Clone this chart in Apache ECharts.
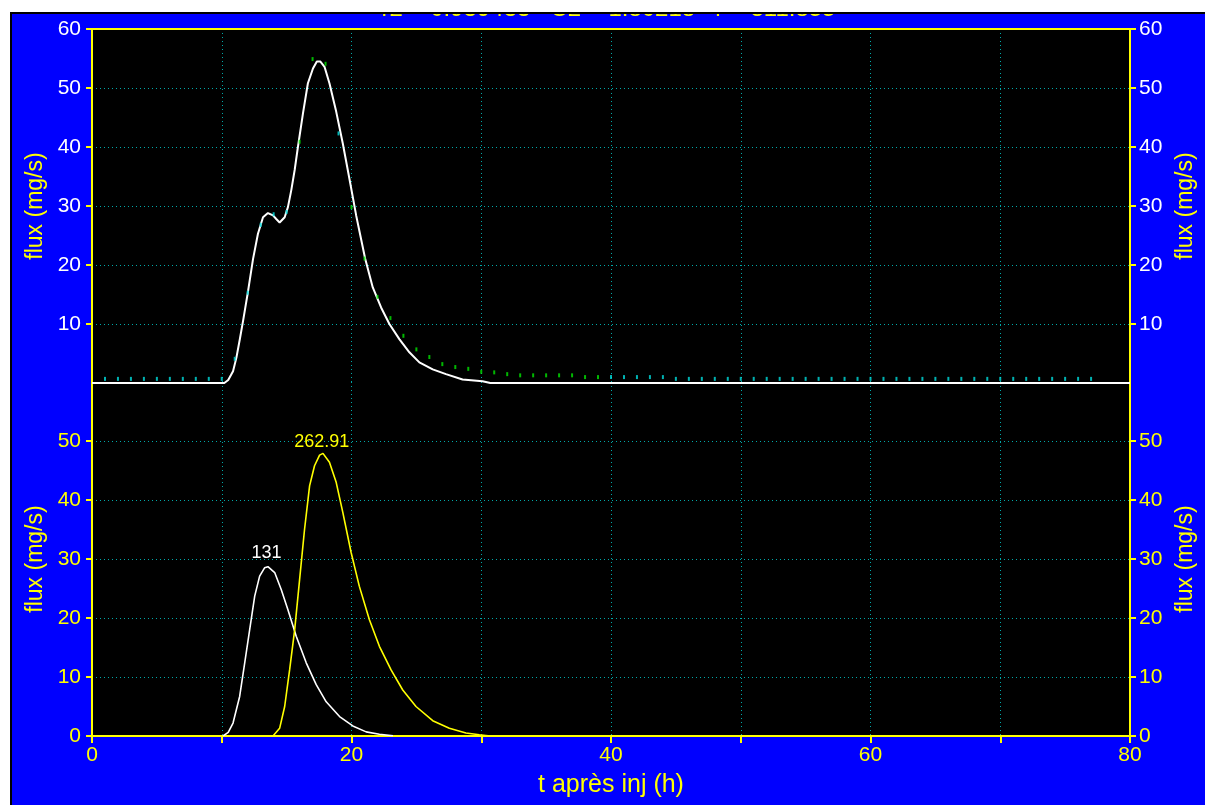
<!DOCTYPE html>
<html>
<head>
<meta charset="utf-8">
<script src="https://cdn.jsdelivr.net/npm/echarts@6/dist/echarts.min.js"></script>
<style>
html,body{margin:0;padding:0;background:#fff;overflow:hidden;width:1205px;height:805px;}
#c{position:absolute;left:10px;top:12px;width:1193px;height:791px;border-left:2px solid #000;border-top:2px solid #000;background:#0000ff;}
</style>
</head>
<body>
<div id="c"></div>
<script>
// ---- data ----
const titleText = 'r2 = 0.939433   C2 = 1.80218   r = 311.855';
const xTicks = [0, 20, 40, 60, 80];
const topYTicks = [10, 20, 30, 40, 50, 60];
const botYTicks = [0, 10, 20, 30, 40, 50];

// measured flux (top panel, white line)
const measT = [0, 10.2, 10.5, 10.87, 11.13, 11.4, 11.64, 12.03, 12.41, 12.79, 13.18, 13.56, 13.95, 14.2, 14.46, 14.85, 15.1, 15.36, 15.62, 15.87, 16.26, 16.64, 17.03, 17.33, 17.59, 17.92, 18.3, 18.82, 19.33, 19.85, 20.36, 20.87, 21.05, 21.64, 22.28, 22.92, 23.7, 24.46, 25.23, 26.26, 27.28, 28.56, 30.1, 30.7, 80];
const measFlux = [0, 0, 0.5, 2.0, 4.3, 7.5, 10.5, 15.6, 21.0, 25.3, 28.1, 28.8, 28.4, 27.8, 27.2, 28.1, 29.8, 32.7, 36.1, 40.0, 45.7, 50.8, 53.3, 54.5, 54.5, 53.6, 50.8, 46.0, 40.6, 34.5, 28.4, 23.0, 21.1, 16.2, 12.8, 10.0, 7.4, 5.2, 3.5, 2.3, 1.5, 0.6, 0.3, 0, 0];

// model flux (top panel, dots every hour)
const modelT = [1,2,3,4,5,6,7,8,9,10,11,12,13,14,15,16,17,18,19,20,21,22,23,24,25,26,27,28,29,30,31,32,33,34,35,36,37,38,39,40,41,42,43,44,45,46,47,48,49,50,51,52,53,54,55,56,57,58,59,60,61,62,63,64,65,66,67,68,69,70,71,72,73,74,75,76,77];
const modelFlux = [0.7,0.7,0.7,0.7,0.7,0.7,0.7,0.7,0.7,0.7,4.1,15.3,26.8,28.6,29.0,40.9,54.9,54.1,42.3,29.8,21.1,14.6,11.0,8.0,5.7,4.4,3.2,2.7,2.4,1.9,1.8,1.5,1.3,1.3,1.3,1.3,1.3,1.0,1.0,1.0,1.0,1.0,1.0,1.0,0.7,0.7,0.7,0.7,0.7,0.7,0.7,0.7,0.7,0.7,0.7,0.7,0.7,0.7,0.7,0.7,0.7,0.7,0.7,0.7,0.7,0.7,0.7,0.7,0.7,0.7,0.7,0.7,0.7,0.7,0.7,0.7,0.7];

// component 1 (bottom panel, white)
const comp1T = [10.1, 10.5, 10.87, 11.38, 11.77, 12.15, 12.54, 12.92, 13.3, 13.56, 13.69, 14.08, 14.59, 15.1, 15.74, 16.51, 17.28, 18.05, 19.08, 20.1, 21.13, 22.15, 23.2];
const comp1Flux = [0, 0.6, 2.2, 6.7, 12.4, 18.0, 23.7, 27.1, 28.5, 28.7, 28.6, 27.7, 24.8, 21.4, 16.9, 12.4, 8.7, 5.8, 3.3, 1.7, 0.7, 0.3, 0.05];
// component 2 (bottom panel, yellow)
const comp2T = [13.95, 14.46, 14.85, 15.23, 15.62, 16.0, 16.38, 16.77, 17.15, 17.54, 17.8, 17.92, 18.3, 18.82, 19.33, 19.97, 20.6, 21.38, 22.15, 23.05, 23.95, 24.97, 26.26, 27.54, 28.82, 29.85, 30.7];
const comp2Flux = [0, 1.3, 5.0, 11.2, 18.0, 26.5, 35.0, 42.4, 45.8, 47.6, 47.9, 47.8, 46.4, 43.0, 37.9, 31.1, 25.4, 19.7, 15.2, 11.2, 7.8, 5.0, 2.6, 1.3, 0.5, 0.2, 0];

const peakLabels = ['131', '262.91'];
const peakT = [13.45, 17.7];
const peakFlux = [28.7, 47.9];

// ---- chart ----
const zip = (a, b) => a.map((v, i) => [v, b[i]]);
const FONT = "'Liberation Sans', Arial, sans-serif";
const YEL = '#ffff00';
const GRIDC = '#00a8a8';
const splitDotted = {show: true, lineStyle: {color: GRIDC, type: [1, 3], width: 1}};

function yAx(grid, pos, ticks, labColor) {
  return {
    type: 'value', gridIndex: grid, position: pos, min: 0, max: 60, interval: 10,
    name: 'flux (mg/s)', nameLocation: 'middle', nameGap: 44, nameRotate: 90,
    nameTextStyle: {color: YEL, fontSize: 23, fontFamily: FONT},
    axisLine: {show: true, onZero: false, lineStyle: {color: YEL, width: 2}},
    axisTick: {show: true, inside: false, length: 6, customValues: ticks, lineStyle: {color: YEL, width: 2}},
    axisLabel: {show: true, customValues: ticks, color: labColor, fontSize: 21, fontFamily: FONT, margin: pos === 'left' ? 11 : 9},
    splitLine: pos === 'left' ? splitDotted : {show: false}
  };
}

const chart = echarts.init(document.getElementById('c'), null, {renderer: 'canvas'});
chart.setOption({
  animation: false,
  backgroundColor: '#0000ff',
  title: {
    text: titleText, left: 'center', top: -22,
    textStyle: {color: YEL, fontSize: 24, fontWeight: 'normal', fontFamily: FONT}
  },
  grid: [
    {left: 80, top: 15, width: 1041, height: 354, show: true, backgroundColor: '#000', borderWidth: 0},
    {left: 80, top: 368, width: 1041, height: 354, show: true, backgroundColor: '#000', borderWidth: 0}
  ],
  xAxis: [
    {type: 'value', gridIndex: 0, position: 'top', min: 0, max: 80, interval: 10,
     axisLine: {show: true, onZero: false, lineStyle: {color: YEL, width: 2}},
     axisTick: {show: false}, axisLabel: {show: false}, splitLine: splitDotted},
    {type: 'value', gridIndex: 1, position: 'bottom', min: 0, max: 80, interval: 10,
     name: 't après inj (h)', nameLocation: 'middle', nameGap: 37,
     nameTextStyle: {color: YEL, fontSize: 25, fontFamily: FONT},
     axisLine: {show: true, onZero: false, lineStyle: {color: YEL, width: 2}},
     axisTick: {show: true, inside: false, length: 7, lineStyle: {color: YEL, width: 2}},
     axisLabel: {color: YEL, fontSize: 21, fontFamily: FONT, margin: 9,
       formatter: v => xTicks.indexOf(v) >= 0 ? String(v) : ''},
     splitLine: splitDotted}
  ],
  yAxis: [
    yAx(0, 'left', topYTicks, '#ffffff'),
    yAx(0, 'right', topYTicks, '#ffffff'),
    yAx(1, 'left', botYTicks, YEL),
    yAx(1, 'right', botYTicks, YEL)
  ],
  series: [
    {type: 'line', xAxisIndex: 0, yAxisIndex: 0, data: zip(measT, measFlux),
     showSymbol: false, smooth: false, z: 5,
     lineStyle: {color: '#ffffff', width: 2}},
    {type: 'scatter', xAxisIndex: 0, yAxisIndex: 0, data: zip(modelT, modelFlux),
     symbol: 'rect', symbolSize: [2, 4], z: 6,
     itemStyle: {color: p => {
       const t = p.value[0];
       return (t >= 16 && t <= 39 && t !== 19) ? '#00e600' : '#00dede';
     }}},
    {type: 'line', xAxisIndex: 1, yAxisIndex: 2, data: zip(comp1T, comp1Flux),
     showSymbol: false, smooth: false, z: 5,
     lineStyle: {color: '#ffffff', width: 1.6},
     markPoint: {symbol: 'circle', symbolSize: 1, itemStyle: {color: 'rgba(0,0,0,0)'},
       label: {show: true, position: 'top', distance: 4, color: '#ffffff', fontSize: 18, fontFamily: FONT, formatter: p => p.name},
       data: [{name: peakLabels[0], coord: [peakT[0], peakFlux[0]]}]}},
    {type: 'line', xAxisIndex: 1, yAxisIndex: 2, data: zip(comp2T, comp2Flux),
     showSymbol: false, smooth: false, z: 5,
     lineStyle: {color: YEL, width: 1.6},
     markPoint: {symbol: 'circle', symbolSize: 1, itemStyle: {color: 'rgba(0,0,0,0)'},
       label: {show: true, position: 'top', distance: 2, color: YEL, fontSize: 18, fontFamily: FONT, formatter: p => p.name},
       data: [{name: peakLabels[1], coord: [peakT[1], peakFlux[1]]}]}}
  ]
});
</script>
</body>
</html>
